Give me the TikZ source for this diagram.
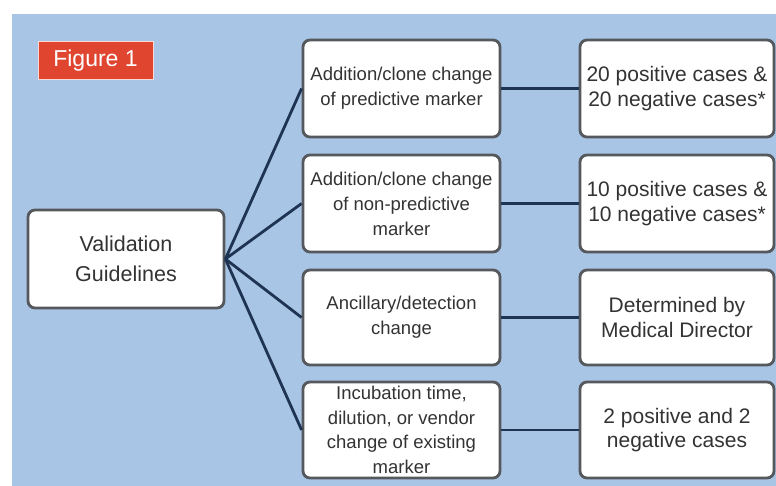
\documentclass[tikz,border=0pt]{standalone}
\usepackage{fontspec}
\setmainfont{Liberation Sans}
\definecolor{bgblue}{HTML}{A9C5E5}
\definecolor{figred}{HTML}{E0452F}
\definecolor{boxline}{HTML}{55585C}
\definecolor{navy}{HTML}{1E3452}
\tikzset{
  box/.style={draw=boxline, line width=2.8pt, fill=white, rounded corners=7pt,
    align=center, inner sep=0pt, text=black!80},
  midbox/.style={box, minimum width=197pt, minimum height=97pt,
    font=\fontsize{18.5}{25}\selectfont},
  resbox/.style={box, minimum width=194pt, minimum height=97pt,
    font=\fontsize{21}{24.5}\selectfont},
  link/.style={draw=navy, line width=2.8pt}
}
\begin{document}
\begin{tikzpicture}[x=1pt,y=-1pt]
\useasboundingbox (0,0) rectangle (776,486);
\fill[white] (0,0) rectangle (776,486);
\fill[bgblue] (12,14) rectangle (776,486);

\node[fill=figred, draw=white!80!figred, line width=1pt, minimum width=115pt,
  minimum height=38pt, inner sep=0pt, text=white,
  font=\fontsize{23}{24}\selectfont] (fig) at (95.5,61) {Figure 1};

\node[box, minimum width=196pt, minimum height=98pt,
  font=\fontsize{21.5}{30}\selectfont] (vg) at (126,259) {Validation\\Guidelines};

\node[midbox] (m1) at (401.5,88.5) {Addition/clone change\\of predictive marker};
\node[midbox] (m2) at (401.5,203.5) {Addition/clone change\\of non-predictive\\marker};
\node[midbox, minimum height=95pt] (m3) at (401.5,317.5) {Ancillary/detection\\change};
\node[midbox, minimum height=96pt, font=\fontsize{18.5}{24.5}\selectfont] (m4) at (401.5,430) {Incubation time,\\dilution, or vendor\\change of existing\\marker};

\node[resbox] (r1) at (677,88.5) {20 positive cases \&\\20 negative cases*};
\node[resbox] (r2) at (677,203.5) {10 positive cases \&\\10 negative cases*};
\node[resbox, minimum height=95pt] (r3) at (677,317.5) {Determined by\\Medical Director};
\node[resbox, minimum height=96pt] (r4) at (677,430) {2 positive and 2\\negative cases};

\foreach \i in {1,2,3,4} {
  \draw[link] (vg.east) -- (m\i.west);
  \draw[link] (m\i.east) -- (r\i.west);
}
\end{tikzpicture}
\end{document}
